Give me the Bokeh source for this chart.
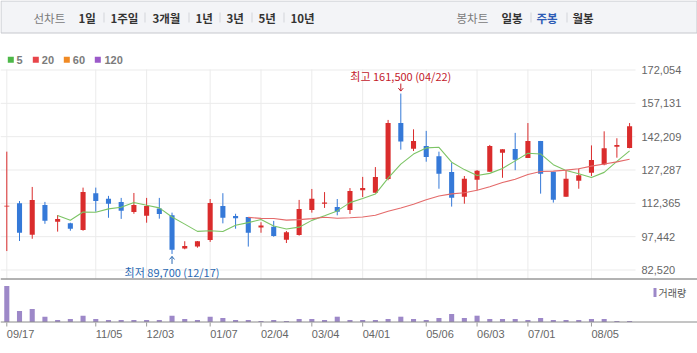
import numpy as np
import pandas as pd
from bokeh.plotting import figure
from bokeh.models import Range1d, ColumnDataSource
from bokeh.core.properties import value
from bokeh.embed import file_html
from bokeh.resources import INLINE

# ---------------- data ----------------
weeks = ["09/17", "09/24", "10/01", "10/08", "10/15", "10/22", "10/29", "11/05", "11/12", "11/19",
         "11/26", "12/03", "12/10", "12/17", "12/24", "12/31", "01/07", "01/14", "01/21", "01/28",
         "02/04", "02/11", "02/18", "02/25", "03/04", "03/11", "03/18", "03/25", "04/01", "04/08",
         "04/15", "04/22", "04/29", "05/06", "05/13", "05/20", "05/27", "06/03", "06/10", "06/17",
         "06/24", "07/01", "07/08", "07/15", "07/22", "07/29", "08/05", "08/12", "08/19", "08/26"]
opens = [110900, 112400, 98300, 111600, 104100, 103400, 100400, 116900, 114400, 113000,
         108500, 106800, 110000, 107000, 92100, 93000, 96000, 111200, 106700, 106200,
         101600, 101900, 96100, 98200, 109400, 112200, 110700, 109400, 118200, 117100,
         123300, 148300, 136800, 138000, 133400, 126400, 115300, 122900, 126500, 135000,
         136700, 132700, 140300, 126500, 115300, 122500, 126100, 129800, 137700, 137100]
highs = [135500, 113400, 119700, 113000, 107100, 103700, 119400, 119400, 115700, 114800,
         117000, 114800, 114800, 108200, 95400, 95500, 114300, 116900, 107700, 106200,
         103900, 104500, 100000, 113900, 118800, 117400, 114300, 119200, 124200, 128600,
         149700, 161500, 145500, 144800, 135500, 130600, 124600, 127300, 138500, 136600,
         143900, 148300, 140300, 126500, 127200, 127900, 138300, 144600, 141500, 148300]
lows = [91000, 95500, 96500, 103200, 99700, 100100, 100100, 108600, 105900, 105400,
        107700, 103700, 105500, 89700, 91800, 92500, 95100, 103400, 101000, 93000,
        99200, 97400, 94600, 97900, 108200, 110300, 107000, 107600, 115200, 117100,
        122700, 136400, 135800, 131000, 118900, 110900, 112200, 118200, 126500, 123800,
        127200, 132700, 116700, 112700, 115300, 118900, 124600, 129400, 132800, 137000]
closes = [111300, 99200, 113900, 104600, 105400, 101000, 117400, 113400, 112200, 109100,
          111600, 111200, 107600, 91600, 93300, 95400, 112500, 105900, 105700, 99200,
          102400, 97700, 99400, 109800, 114400, 112700, 108600, 117900, 119200, 124200,
          148300, 140000, 140300, 133100, 125600, 114900, 123400, 127000, 138000, 136600,
          131900, 140300, 125600, 114000, 123400, 124900, 131800, 137000, 138500, 146900]
volumes = [1800000, 550000, 650000, 265000, 100000, 150000, 315000, 150000, 100000, 100000,
           100000, 100000, 100000, 315000, 150000, 100000, 265000, 200000, 100000, 100000,
           50000, 100000, 50000, 150000, 150000, 100000, 265000, 100000, 100000, 100000,
           150000, 265000, 150000, 100000, 200000, 400000, 200000, 315000, 150000, 150000,
           150000, 100000, 200000, 100000, 100000, 100000, 150000, 150000, 50000, 50000]
tick_dates = ["09/17", "11/05", "12/03", "01/07", "02/04", "03/04", "04/01",
              "05/06", "06/03", "07/01", "08/05"]
price_ticks = [82520, 97442, 112365, 127287, 142209, 157131, 172054]
ma_periods = [5, 20, 60, 120]
ma_line_colors = ["#7cc465", "#e46a6a", "#f0902a", "#9a5cc8"]
ma_legend_colors = ["#4db848", "#e8454a", "#f08a24", "#9b59c9"]

left_menu = ["선차트", "1일", "1주일", "3개월", "1년", "3년", "5년", "10년"]
right_menu = ["봉차트", "일봉", "주봉", "월봉"]
volume_label = "거래량"

# ---------------- styles / layout (pixels) ----------------
KR = "Noto Sans CJK KR"
NUM = "Liberation Sans"
UP = "#da2c2c"
DOWN = "#3579d8"
GRID = "#ebebeb"
TXT = "#666666"
VOL = "#9d88c8"
HI_C = "#c3202b"
LO_C = "#2a69b3"

W, H = 697, 353
PX_WEEK = 12.71            # pixels per week
X0 = -6.3 / PX_WEEK        # week-axis start
PRICE_TOP_PX, PRICE_BOT_PX = 69.5, 269.5     # pixel rows of first / last price tick
PANEL_TOP, PANEL_BOT = 69, 278.5
VOL_BASE = 321.5
VOL_MAX_PX = 36
GRID_RIGHT = 635
YLAB_X = 641

upp = (price_ticks[-1] - price_ticks[0]) / (PRICE_BOT_PX - PRICE_TOP_PX)   # price per px
PY1 = price_ticks[-1] + PRICE_TOP_PX * upp
PY0 = price_ticks[0] - (H - PRICE_BOT_PX) * upp
vmax = max(volumes)
vpp = vmax / VOL_MAX_PX
wpp = 1 / PX_WEEK

p = figure(width=W, height=H, x_range=Range1d(X0, X0 + W / PX_WEEK),
           y_range=Range1d(PY0, PY1), toolbar_location=None, output_backend="svg",
           min_border=0, x_axis_location=None, y_axis_location=None)
p.extra_x_ranges = {"px": Range1d(0, W)}
p.extra_y_ranges = {"px": Range1d(H, 0), "vol": Range1d(-(H - VOL_BASE) * vpp, VOL_BASE * vpp)}
p.grid.visible = False
p.outline_line_color = None
p.background_fill_color = "white"
p.border_fill_color = "white"

PX = dict(x_range_name="px", y_range_name="px")

# ---------------- header ----------------
p.quad(left=0.5, right=696.5, top=0.5, bottom=32.5, fill_color="#f3f4f7",
       line_color="#c6c8cd", line_width=1, **PX)
left_x = [33, 78, 110, 152, 195, 226, 258, 290]
right_x = [456, 501, 536, 572]
p.text(x=[left_x[0], right_x[0]], y=[17, 17], text=[left_menu[0], right_menu[0]],
       text_font=value(KR), text_font_size="11.5px", text_color="#7a7a7a",
       text_baseline="middle", text_align="left", **PX)
p.text(x=left_x[1:] + [right_x[1], right_x[3]], y=[17] * 9,
       text=left_menu[1:] + [right_menu[1], right_menu[3]],
       text_font=value(KR), text_font_size="11.5px", text_color="#333333",
       text_font_style="bold", text_baseline="middle", text_align="left", **PX)
p.text(x=[right_x[2]], y=[17], text=[right_menu[2]],
       text_font=value(KR), text_font_size="11.5px", text_color="#2d5bb5",
       text_font_style="bold", text_baseline="middle", text_align="left", **PX)
sep_x = [103.5, 144.5, 188.5, 219.5, 251.5, 283.5, 530.5, 566.5]
p.segment(x0=sep_x, y0=[12] * len(sep_x), x1=sep_x, y1=[22] * len(sep_x),
          line_color="#d3d5da", line_width=1, **PX)

# moving-average legend
p.scatter(x=[10.3, 35.3, 66.3, 97.3], y=[59.3] * 4, marker="square", size=6,
          fill_color=ma_legend_colors, line_color=None, **PX)
p.text(x=[16, 41.3, 72.3, 104], y=[59.8] * 4, text=[str(n) for n in ma_periods],
       text_font=value(NUM), text_font_size="11px", text_font_style="bold",
       text_color="#7b7b7b", text_baseline="middle", text_align="left", **PX)

# ---------------- price panel ----------------
n = len(weeks)
idx = list(range(n))
tick_idx = [weeks.index(d) for d in tick_dates]

# grid
p.segment(x0=[0] * len(price_ticks), x1=[GRID_RIGHT] * len(price_ticks),
          y0=price_ticks, y1=price_ticks, line_color=GRID, line_width=1, x_range_name="px")
p.segment(x0=tick_idx, x1=tick_idx, y0=[PANEL_TOP] * len(tick_idx),
          y1=[PANEL_BOT - 0.5] * len(tick_idx), line_color=GRID, line_width=1, y_range_name="px")
# price labels (right)
p.text(x=[YLAB_X] * len(price_ticks), y=price_ticks, text=[f"{t:,}" for t in price_ticks],
       text_font=value(NUM), text_font_size="11px", text_color=TXT,
       text_baseline="middle", text_align="left", x_range_name="px")

o = np.array(opens, dtype=float)
c = np.array(closes, dtype=float)
src = ColumnDataSource(dict(
    x=idx, high=highs, low=lows,
    top=np.maximum(o, c), bottom=np.minimum(o, c),
    color=[UP if cc >= oo else DOWN for oo, cc in zip(opens, closes)],
))
p.segment(x0="x", y0="high", x1="x", y1="low", line_color="color", line_width=1, source=src)
p.vbar(x="x", width=0.4, top="top", bottom="bottom", fill_color="color",
       line_color=None, source=src)

close_s = pd.Series(closes, dtype=float)
for per, col in zip(ma_periods, ma_line_colors):
    ma = close_s.rolling(per).mean().to_numpy()
    p.line(x=idx, y=ma, line_color=col, line_width=1.1)

# high / low markers
imax = int(np.argmax(highs))
imin = int(np.argmin(lows))
hmax = highs[imax]
lmin = lows[imin]
p.segment(x0=[imax], y0=[hmax + 2.5 * upp], x1=[imax], y1=[hmax + 10 * upp],
          line_color=HI_C, line_width=1)
p.segment(x0=[imax - 2.5 * wpp, imax + 2.5 * wpp], y0=[hmax + 5.5 * upp] * 2,
          x1=[imax, imax], y1=[hmax + 2.5 * upp] * 2, line_color=HI_C, line_width=1)
p.text(x=[imax], y=[hmax + 17.7 * upp], text=[f"최고 {hmax:,} ({weeks[imax]})"],
       text_font=value(KR), text_font_size="11px", text_color=HI_C,
       text_align="center", text_baseline="middle")
p.segment(x0=[imin], y0=[lmin - 2.5 * upp], x1=[imin], y1=[lmin - 10 * upp],
          line_color=LO_C, line_width=1)
p.segment(x0=[imin - 2.5 * wpp, imin + 2.5 * wpp], y0=[lmin - 5.5 * upp] * 2,
          x1=[imin, imin], y1=[lmin - 2.5 * upp] * 2, line_color=LO_C, line_width=1)
p.text(x=[imin], y=[lmin - 18 * upp], text=[f"최저 {lmin:,} ({weeks[imin]})"],
       text_font=value(KR), text_font_size="11px", text_color=LO_C,
       text_align="center", text_baseline="middle")

# ---------------- volume panel ----------------
p.vbar(x=idx, top=volumes, bottom=0, width=0.4, fill_color=VOL, line_color=None,
       y_range_name="vol")
# panel separator and volume baseline
p.segment(x0=[0, 0], x1=[W, W], y0=[PANEL_BOT, VOL_BASE], y1=[PANEL_BOT, VOL_BASE],
          line_color=["#666666", "#8a8a8a"], line_width=1, **PX)
# date ticks & labels
p.segment(x0=tick_idx, x1=tick_idx, y0=[VOL_BASE + 0.5] * len(tick_idx),
          y1=[VOL_BASE + 4.5] * len(tick_idx), line_color="#9a9a9a", line_width=1,
          y_range_name="px")
p.text(x=tick_idx, y=[333.5] * len(tick_idx), text=[weeks[i] for i in tick_idx],
       text_font=value(NUM), text_font_size="11px", text_color=TXT,
       text_baseline="middle", text_align="left", y_range_name="px")
# volume legend
p.quad(left=[653], right=[656], top=[287.5], bottom=[296.5], fill_color=VOL,
       line_color=None, **PX)
p.text(x=[658], y=[292], text=[volume_label], text_font=value(KR),
       text_font_size="10px", text_color="#555555", text_baseline="middle",
       text_align="left", **PX)

open("out.html", "w").write(file_html(p, INLINE))
